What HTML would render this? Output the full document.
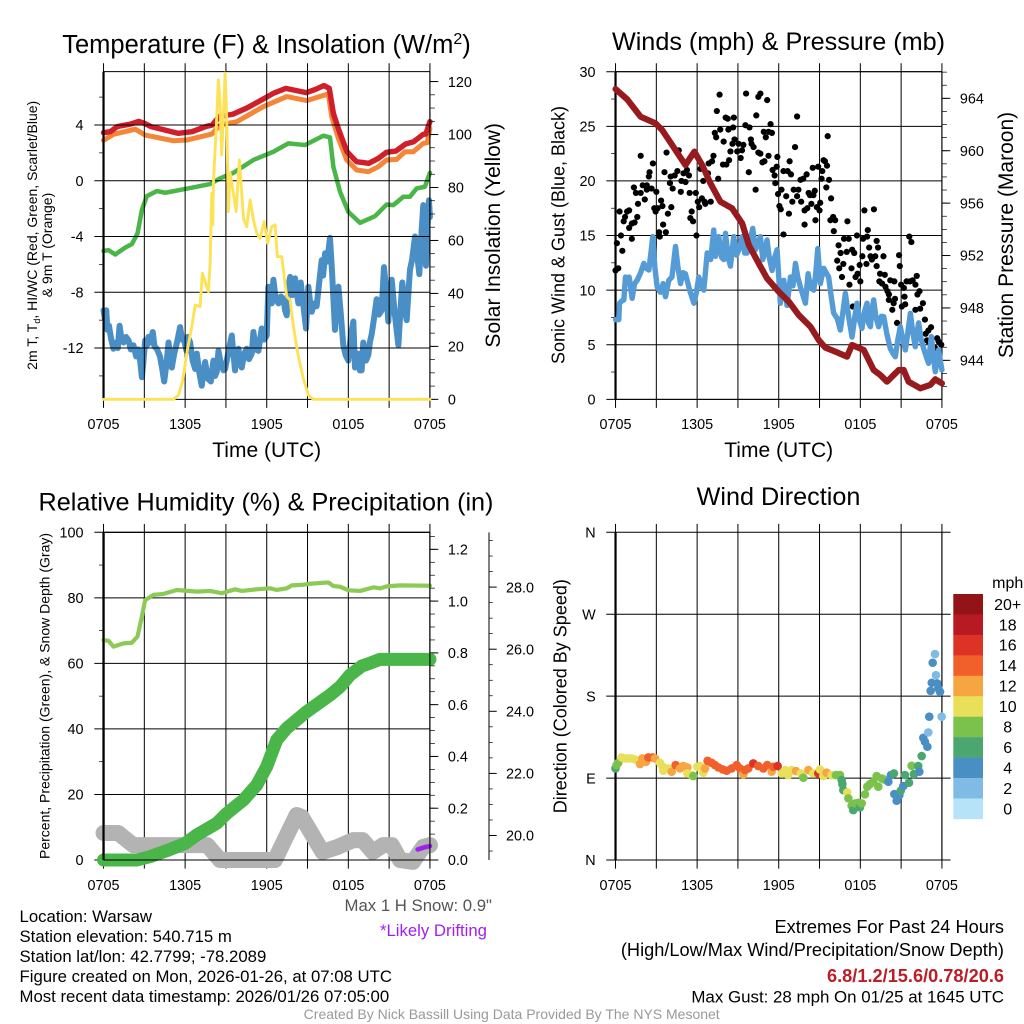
<!DOCTYPE html>
<html lang="en">
<head>
<meta charset="utf-8">
<title>Warsaw Mesonet Meteogram</title>
<style>
html,body{margin:0;padding:0;background:#fff;}
svg{display:block;font-family:"Liberation Sans",sans-serif;}
text{fill:#000;}
</style>
</head>
<body>
<svg id="figure" xmlns="http://www.w3.org/2000/svg" width="1024" height="1024" viewBox="0 0 1024 1024">
<rect x="0" y="0" width="1024" height="1024" fill="#fff"/>
<g id="p1"></g>
<g id="p2"></g>
<g id="p3"></g>
<g id="p4"></g>

<text x="266.5" y="53" font-size="25.5" text-anchor="middle">Temperature (F) &amp; Insolation (W/m<tspan font-size="16" dy="-9">2</tspan><tspan dy="9">)</tspan></text>
<text x="778.5" y="50" font-size="25.2" text-anchor="middle">Winds (mph) &amp; Pressure (mb)</text>
<text x="266" y="510.5" font-size="25.2" text-anchor="middle">Relative Humidity (%) &amp; Precipitation (in)</text>
<text x="778.5" y="505" font-size="25.2" text-anchor="middle">Wind Direction</text>

<text x="266.7" y="457" font-size="21" text-anchor="middle">Time (UTC)</text>
<text x="778.7" y="457" font-size="21" text-anchor="middle">Time (UTC)</text>

<text transform="rotate(-90 37 235.3)" x="37" y="235.3" font-size="14" text-anchor="middle">2m T, T<tspan font-size="9" dy="3">d</tspan><tspan dy="-3">, HI/WC (Red, Green, Scarlet/Blue)</tspan></text>
<text transform="rotate(-90 52 245)" x="52" y="245" font-size="14" text-anchor="middle">&amp; 9m T (Orange)</text>
<text transform="rotate(-90 500 235.3)" x="500" y="235.3" font-size="21" text-anchor="middle">Solar Insolation (Yellow)</text>
<text transform="rotate(-90 564.7 235)" x="564.7" y="235" font-size="18" text-anchor="middle">Sonic Wind &amp; Gust (Blue, Black)</text>
<text transform="rotate(-90 1013 235)" x="1013" y="235" font-size="21" text-anchor="middle">Station Pressure (Maroon)</text>
<text transform="rotate(-90 49.3 696)" x="49.3" y="696" font-size="14" text-anchor="middle">Percent, Precipitation (Green), &amp; Snow Depth (Gray)</text>
<text transform="rotate(-90 566.7 696.2)" x="566.7" y="696.2" font-size="18" text-anchor="middle">Direction (Colored By Speed)</text>

<g font-size="16.75">
<text x="19.5" y="922">Location: Warsaw</text>
<text x="19.5" y="942">Station elevation: 540.715 m</text>
<text x="19.5" y="962">Station lat/lon: 42.7799; -78.2089</text>
<text x="19.5" y="982">Figure created on Mon, 2026-01-26, at 07:08 UTC</text>
<text x="19.5" y="1002">Most recent data timestamp: 2026/01/26 07:05:00</text>
</g>
<text x="492" y="911" font-size="16.75" text-anchor="end" style="fill:#555">Max 1 H Snow: 0.9"</text>
<text x="487" y="936" font-size="16.75" text-anchor="end" style="fill:#a020f0">*Likely Drifting</text>

<g text-anchor="end">
<text x="1004" y="933" font-size="18.2">Extremes For Past 24 Hours</text>
<text x="1004" y="956" font-size="18.2">(High/Low/Max Wind/Precipitation/Snow Depth)</text>
<text x="1004" y="982" font-size="18.2" font-weight="bold" style="fill:#bb1e26">6.8/1.2/15.6/0.78/20.6</text>
<text x="1004" y="1002.5" font-size="16.9">Max Gust: 28 mph On 01/25 at 1645 UTC</text>
</g>
<text x="511.7" y="1019" font-size="14" text-anchor="middle" style="fill:#999">Created By Nick Bassill Using Data Provided By The NYS Mesonet</text>
</svg>

<script>
/* ---------- shared tick data ---------- */
const xGridHours = [0,3,6,9,12,15,18,21,24];
const xTickHours = [0,6,12,18,24];
const xTickLabels = ['0705','1305','1905','0105','0705'];

/* ---------- panel 1: temperature and insolation ---------- */
const tempTickLabels = ['4','0','-4','-8','-12'];
const tempMinorValues = [6,2,-2,-6,-10,-14];
const solarTickLabels = ['120','100','80','60','40','20','0'];

const redHours = [0,.5,1,2,2.6,3,3.5,4.5,5.5,6.5,7.5,8,8.5,9.5,10.5,11.7,12.5,13.4,14.9,15.6,16.2,16.6,16.9,17.3,17.9,18.6,19.5,20.2,20.8,21.5,22.2,22.8,23.5,23.7,24];
const redTemp = [3.45,3.52,3.88,4.07,4.26,4.12,3.88,3.64,3.40,3.52,3.88,4.0,4.6,4.77,5.2,5.84,6.28,6.63,6.32,6.56,6.83,6.63,4.84,3.64,2.08,1.37,1.25,1.6,2.04,2.13,2.63,2.8,3.33,3.35,4.24];

const orangeHours = [0,.73,2.33,3.06,5.14,6.12,7.96,8.57,9.8,11.76,13.47,14.94,16.53,16.78,17.27,17.88,18.61,19.47,20.2,20.82,21.55,22.16,22.78,23.51,23.8,24];
const orangeTemp = [2.9,3.33,3.7,3.28,2.87,2.92,3.35,4.0,4.24,5.32,6.04,5.75,6.23,4.6,3.04,1.5,.77,.65,1.0,1.49,1.53,2.08,2.08,2.68,2.73,3.76];

const greenHours = [0,.37,.86,1.6,2.08,2.5,2.82,3.18,3.92,4.53,6.12,7.84,8.57,9.55,11.02,12.49,13.59,14.82,16.16,16.65,16.9,17.39,18,18.86,19.96,20.82,21.31,22.04,22.53,23.02,23.63,24];
const greenDewpoint = [-5.03,-4.98,-5.29,-4.79,-4.55,-3.78,-2.1,-1.1,-.74,-.86,-.57,-.24,.17,.57,1.49,2.08,2.68,2.56,3.23,3.11,1.0,-.79,-2.23,-3.02,-2.54,-1.7,-1.75,-1.15,-1.15,-.55,-.43,.57];

const blueHours = [
  0,.1,.2,.29,.4,.55,.73,.9,1.05,1.18,
  1.3,1.47,1.65,1.84,2,2.2,2.4,2.57,2.7,2.82,
  2.95,3.06,3.2,3.31,3.45,3.62,3.75,3.92,4.15,4.3,
  4.46,4.62,4.78,4.9,5.02,5.2,5.4,5.63,5.78,5.93,
  6.1,6.2,6.37,6.55,6.74,6.86,7.05,7.22,7.35,7.47,
  7.68,7.89,8.08,8.2,8.33,8.45,8.6,8.82,8.94,9.2,
  9.43,9.55,9.67,9.8,9.92,10.04,10.16,10.35,10.53,10.7,
  10.9,11.02,11.2,11.39,11.63,11.8,12,12.12,12.25,12.37,
  12.49,12.65,12.86,13.05,13.23,13.35,13.47,13.6,13.72,13.9,
  14.08,14.2,14.33,14.5,14.7,14.89,15.06,15.2,15.31,15.5,
  15.67,15.85,16.04,16.15,16.29,16.45,16.65,16.8,17.02,17.15,
  17.27,17.45,17.63,17.8,18,18.2,18.37,18.49,18.7,18.85,
  18.98,19.1,19.3,19.47,19.6,19.72,19.9,20.08,20.25,20.45,
  20.62,20.8,20.94,21.05,21.19,21.4,21.68,21.85,21.97,22.15,
  22.29,22.45,22.53,22.7,22.9,23.05,23.22,23.4,23.51,23.62,
  23.71,23.82,23.93,24];
const blueWindChill = [
  -9.3,-9.9,-9.3,-10.7,-10.4,-11.3,-12.05,-11.6,-12,-10.4,
  -11.2,-11.6,-11.2,-11.45,-12.1,-11.8,-12.6,-12.1,-13,-14.1,
  -12.8,-11.45,-11.8,-11.2,-11.6,-10.85,-11.9,-12.05,-12.6,-13.4,
  -14.4,-13.2,-11.6,-12.6,-13.4,-12.4,-11.6,-10.5,-11.4,-11.45,
  -12.2,-11.2,-11.6,-12.9,-13.5,-12.4,-13.8,-14.7,-13.8,-13,
  -14.2,-14.4,-12.9,-14,-13.7,-12.2,-13,-13.6,-13.5,-12.2,
  -11.1,-12.4,-13.6,-12.6,-12.05,-13,-13.4,-12.4,-12.05,-12.8,
  -12.4,-10.85,-12.1,-12.2,-10.6,-11.4,-11.1,-7.6,-8.6,-8.8,
  -7.1,-8.4,-8.8,-8.3,-8.5,-9.3,-9.65,-7.6,-6.9,-8.2,
  -7,-8,-8.8,-7.3,-9,-10.6,-7.6,-8.8,-9.4,-8.8,
  -9,-7.4,-5.7,-6.8,-5.2,-5.8,-4.1,-6.5,-10.7,-8.5,
  -7.6,-9.6,-11.8,-12.5,-12.9,-11,-10.1,-13.4,-12.4,-13.6,
  -13.6,-11.6,-12.9,-12.5,-11.5,-11,-9.8,-8.5,-9.6,-9.3,
  -6.2,-8,-10.1,-8.6,-7.1,-9.4,-11.8,-9,-7.3,-9.2,
  -10,-7.6,-6.4,-5.6,-4,-5.2,-6.7,-3.4,-1.75,-4,
  -6.1,-3.2,-1.4,-2.6];

const solarHours = [0,5.14,5.51,5.83,6.12,6.49,6.74,7.1,7.27,7.71,7.84,7.96,8.03,8.08,8.28,8.45,8.57,8.69,8.94,9.06,9.18,9.31,9.55,9.75,9.99,10.29,10.53,10.78,11.02,11.27,11.51,11.81,12.07,12.37,12.61,12.78,13.1,13.47,13.72,13.96,14.33,14.69,15.06,15.43,24];
const solarValues = [0,0,1.6,7.3,17.4,27.5,35.6,35,47.6,40.7,51.4,77.8,65.9,81.6,101.8,120.7,111.8,92.3,123.2,105.5,70.9,85.4,77.8,70.9,90.4,68.4,65.2,75.3,67.8,62.7,60.8,67.1,58.9,65.2,65.9,53.9,53.9,38.8,37.5,27.5,16.1,7.9,1.6,0,0];

/* ---------- panel 2: winds and pressure ---------- */
const windTickLabels = ['30','25','20','15','10','5','0'];
const windMinorValues = [27.5,22.5,17.5,12.5,7.5,2.5];
const pressureTickLabels = ['964','960','956','952','948','944'];

const gustHours = [0,.2,.1,.3,.4,.5,.6,.7,.85,1,1,1.2,1.2,1.4,1.6,1.35,1.5,1.65,1.85,1.85,2,2.15,2.3,2.3,2.65,2.45,2.5,2.75,2.85,3,2.95,3.1,3.2,3.25,3.35,3.45,3.5,3.7,3.6,3.75,3.85,4,4.05,4.1,4.2,4.35,4.55,4.65,4.8,4.85,5,5.15,5.25,5.4,5.45,5.5,5.6,5.7,5.9,5.95,6.05,6.15,6.25,6.35,6.45,6.55,6.6,6.8,6.85,7,7.1,7.2,7.3,7.4,7.45,7.55,7.65,7.7,7.9,7.95,8.1,8.15,8.25,8.35,8.3,8.45,8.6,8.65,8.7,8.75,8.95,9.05,9.2,9.3,9.4,9.55,9.6,9.8,9.85,9.95,10,10.15,10.3,10.35,10.5,10.65,10.5,10.65,10.8,10.95,10.9,11.05,11.15,11.25,11.25,11.4,11.5,11.55,11.7,11.75,11.9,11.85,11.95,12.05,12.15,12.2,12.35,12.35,12.55,12.65,12.75,12.8,12.9,13,13.1,13.2,13.35,13.35,13.45,13.6,13.65,13.8,13.9,13.9,14.1,14.05,14.2,14.3,14.4,14.5,14.55,14.65,14.7,14.8,14.9,15,15.05,15.15,15.2,15.3,15.4,15.55,15.5,15.6,15.7,15.85,15.8,16,16.05,16.15,16.3,16.4,16.45,16.55,16.65,16.75,16.8,17,17.05,17.15,17.2,17.35,17.4,17.45,17.55,17.65,17.75,17.8,18,17.95,18.15,18.2,18.3,18.45,18.5,18.55,18.65,18.75,18.85,19,19.1,19.2,19.3,19.2,19.45,19.7,19.8,19.4,19.6,19.85,20,20.1,20.1,20.2,20.5,20.35,20.45,20.55,20.7,20.85,20.9,21,21.05,21.2,21.25,21.3,21.4,21.65,21.6,21.75,21.85,22.05,22.05,22.15,22.2,22.35,22.4,22.6,22.75,22.8,23,23.2,22.9,23,23.5,23.65,23.75,23.95];
const gustMph = [11.8,12,14.3,17.2,15,13.6,16.3,16.7,17.2,17.3,15.7,14.7,16.1,16.2,16.7,19.4,18.9,17.9,22.3,18.9,19.6,18.3,19.6,19.2,19.3,20.4,20.8,21.6,17.5,19,17.2,17.5,15.3,14.9,18.2,17.7,16,15.3,20.8,22.6,17,19.8,20.4,17.6,19.3,20.5,20.9,22.8,19,20,20.7,19.9,21,20.5,18.9,16.6,17.2,16.3,18.9,15,18.1,17.6,21.1,18.4,20,18.1,17.9,20.7,21.6,18.1,21.8,22.3,24.4,24,26.4,20.2,27.9,24.7,21.5,23.6,25.8,21.5,25.7,21.9,24.7,22.7,23.4,24.9,25.8,23.8,22.7,23.4,22.1,22.8,23.3,25.1,28,20.8,24.9,23.8,23.4,23.1,19.2,26,27.7,28,22.6,22.5,21.7,21.8,24.5,24,27.4,24.5,22.3,25.2,24.4,21,20.5,19.8,22.2,21.3,18.8,17.7,17.4,19.2,20.9,15.1,18.6,20.9,17,21.8,20.6,18.1,19.2,23.1,25.9,18.6,19.2,20.1,18.1,20.2,17.3,16,17.5,20.6,18.9,18.7,17.9,21.2,18.7,19.1,16.4,17.6,21.3,17.3,18,20.2,20.9,21.9,21.8,21.4,19.4,24.1,20.1,18.4,16.4,16.7,15.4,16.4,12.7,14.1,12,13.4,11.2,12.4,14.7,13.5,16.3,14.7,10.5,12,13.7,8.5,13.4,11.2,15,11.5,10.8,12.3,13.1,14.7,17.3,12.4,14.9,15.5,13.9,13.1,12.8,17.4,13.1,14.5,13.9,12.2,11.5,13.1,11.4,10.8,10.6,10.3,9.9,9.6,9.1,10.9,10.8,8.2,8.8,9.2,7,13.2,12.2,10.5,8.5,10.2,9.4,8.7,10.8,10.8,14.9,14.4,10.9,10.5,8.2,11.3,9.6,9.9,8.3,8.8,7.3,6,6.3,6.6,5.4,5.3,4.7,5.6,5.3,5];

const windHours = [
  0,.15,.24,.29,.45,.61,.73,.85,1,1.22,
  1.4,1.59,1.85,2.08,2.25,2.45,2.6,2.74,2.9,3.06,
  3.3,3.5,3.67,3.92,4.15,4.41,4.6,4.78,4.95,5.14,
  5.45,5.76,5.95,6.12,6.3,6.49,6.74,7,7.22,7.35,
  7.59,7.8,7.96,8.08,8.3,8.45,8.69,8.9,9.06,9.31,
  9.5,9.67,9.9,10.09,10.29,10.65,10.83,11,11.14,11.3,
  11.51,11.7,11.88,12.12,12.25,12.37,12.61,12.86,13.05,13.23,
  13.4,13.59,13.96,14.16,14.35,14.57,14.72,14.87,15.06,15.31,
  15.67,15.85,16.04,16.3,16.53,16.72,16.9,17.15,17.39,17.6,
  17.76,17.95,18.12,18.3,18.49,18.6,18.74,18.86,18.98,19.15,
  19.35,19.55,19.72,19.95,20.2,20.4,20.57,20.75,20.94,21.15,
  21.31,21.5,21.68,21.85,22.04,22.15,22.29,22.45,22.65,22.85,
  23.02,23.12,23.22,23.38,23.51,23.65,23.76,23.9,24];
const windMph = [
  7.3,7.3,7.3,8.8,9,9.1,11.2,10.8,11.2,9.25,
  10.6,10.9,11.6,12.45,12,11.84,13.4,14.9,12,10.3,
  9.8,10.6,9.4,10.9,11.2,14,12,10.6,11.6,11.5,
  10,8.8,9.8,11.2,10.5,10,13.4,12.8,15.5,13.1,
  14.9,13,12.8,15.2,12.9,12.2,14.9,13.2,13.7,14.9,
  13.4,13.4,14.6,15.65,13.7,14.9,12.8,13.6,14.6,13,
  11.8,13,13.7,8.8,10,10.9,8.6,11.2,10.4,12.45,
  11.2,10.3,8.8,11.5,10.2,10,11.5,13.8,10.6,12,
  11.2,9.5,7.9,7.4,6.35,8,9.7,7.5,5.7,7.6,
  8.8,7.2,6.5,8,8.8,7,6.65,8.2,9.1,7.5,
  6.65,7.6,7.57,6,4.67,4.2,3.9,5.4,6.65,5.3,
  4.52,6.2,7.87,6.2,4.82,6,7,5.6,4.67,3.9,
  3.3,4.6,5.74,3.8,2.53,3.6,4.52,3.4,2.7];

const pressureHours = [0,.86,1.84,2.94,3.43,4.16,4.65,5.14,5.8,6.37,6.98,7.71,8.57,9.31,9.8,10.53,11.14,12,12.74,13.47,14.33,14.94,15.43,16.16,17.02,17.39,18.25,18.98,19.47,19.96,20.45,20.82,21.19,21.55,22.41,23.14,23.51,24];
const pressureMb = [964.71,963.92,962.6,962.09,961.58,960.44,959.67,958.91,959.93,958.91,957.51,956.11,955.6,954.46,952.8,951.4,950.26,949.24,948.48,947.46,946.57,945.55,944.97,944.66,944.28,945.17,944.79,943.26,942.88,942.37,942.88,943.26,943.26,942.37,941.86,942.12,942.55,942.24];

/* ---------- panel 3: humidity, precipitation, snow ---------- */
const percentTickLabels = ['100','80','60','40','20','0'];
const percentMinorValues = [90,70,50,30,10];
const precipTickLabels = ['1.2','1.0','0.8','0.6','0.4','0.2','0.0'];
const snowTickLabels = ['28.0','26.0','24.0','22.0','20.0'];

const humidityHours = [0,.37,.73,1.47,2.08,2.5,2.82,3.06,3.67,4.41,5.39,6.86,7.84,8.69,9.67,10.16,11.27,12.25,12.74,13.47,13.84,14.69,15.18,16.53,16.9,17.39,18,18.86,19.84,20.33,20.82,21.8,24];
const humidityPercent = [67.1,66.9,65.1,66.1,66.3,68.2,74.3,79.3,80.9,81.2,82.4,81.9,82.1,81.4,82.6,82.1,82.6,82.9,82.4,82.9,83.8,84,84.3,84.7,83.6,83.4,82.3,82.1,83.2,82.9,83.5,83.8,83.7];

const precipHours = [0,2.45,3.43,4.65,6,6.86,8.33,9.06,10.29,11.27,12,12.74,13.47,14.94,16.65,17.39,18.12,18.98,19.59,20.33,24];
const precipInches = [0,0,.013,.036,.064,.097,.142,.18,.232,.29,.361,.464,.509,.573,.637,.669,.714,.749,.76,.775,.775];

const snowHours = [0,1.08,2.18,7.62,8.57,12.6,14.2,14.57,16.1,17.2,18.35,19.05,19.8,20.55,21.2,21.8,22.75,23.5,24];
const snowDepth = [20.08,20.08,19.69,19.69,19.21,19.21,20.66,20.6,19.47,19.63,19.85,19.85,19.47,19.69,19.69,19.21,19.15,19.63,19.69];

const driftHours = [23.1,23.6,24];
const driftDepth = [19.55,19.62,19.66];

/* ---------- panel 4: wind direction ---------- */
const directionTickLabels = ['N','W','S','E','N'];
const directionTickDegrees = [360,270,180,90,0];

const dirHours = [0,.08,.2,.45,.7,.94,1.19,1.43,1.8,1.97,2.24,2.41,2.73,2.9,3.27,3.47,3.51,3.88,4.13,4.42,4.74,4.99,5.28,5.28,5.6,5.72,6.01,6.21,6.45,6.58,6.77,7.07,7.31,7.56,7.88,8.17,8.54,8.91,9.15,9.4,9.52,9.76,10.13,10.5,10.87,11.16,11.48,11.6,11.92,12.22,12.46,12.7,12.95,13.27,13.62,13.81,14.18,14.54,14.91,15.03,15.28,15.52,15.89,16.21,16.5,16.63,16.68,16.75,17.04,17.12,17.36,17.48,17.61,17.85,17.97,18.1,18.34,18.51,18.71,18.96,19.2,19.32,19.57,19.74,20.06,20.25,20.47,20.5,20.67,20.87,20.97,21.16,21.28,21.58,21.77,21.94,22.26,22.34,22.51,22.63,22.75,22.93,23,23.07,23.17,23.25,23.32,23.49,23.56,23.66,23.74,23.86,23.98];
const dirDegrees = [100.6,104.3,106.8,112.7,111.6,111.6,111.6,110.5,105.4,111.6,107.9,112.7,112.7,111.6,106.8,102.4,98.1,100.6,97,104.3,100.6,103.2,101.7,95.1,93.3,92.2,102.4,103.2,95.9,100.6,109,106.8,104.3,101.7,99.5,98.1,100.6,104.3,100.6,94,98.8,100.6,106.1,103.2,100.6,104.3,97,102.4,103.2,95.1,98.8,93.3,98.8,97.7,95.1,90.4,98.8,95.1,95.1,99.5,92.2,95.9,93.3,93.3,93.3,87.8,83.4,76.8,74.3,67.7,59.6,54.8,62.2,62.9,57.8,62.2,72.1,80.5,83.4,86,92.2,80.5,89.6,88.5,86,93.3,95.1,72.4,65.1,71.3,76.1,81.2,93.3,84.9,103.5,94.4,103.2,97,114.2,134.3,129.9,124.4,140.2,157.4,185.9,194.7,216.7,226.2,203.1,194,188.5,184.8,157.4];
const dirSpeeds = [6,8,8,10,10,10,10,10,12,12,12,14,14,12,10,10,10,10,12,14,12,12,12,10,10,8,10,10,10,12,14,14,14,14,14,14,14,14,14,12,14,14,16,14,14,14,12,14,16,10,10,10,10,12,10,8,12,10,16,10,10,12,10,8,8,6,6,6,10,8,8,6,8,8,6,8,8,8,8,8,8,8,8,8,4,4,6,4,4,4,6,4,6,6,8,6,6,4,6,4,4,4,2,4,4,4,4,2,2,4,4,4,2];

const legendLabels = ['20+','18','16','14','12','10','8','6','4','2','0'];
const speedBinColors = ['#b7e3f8','#7fbbe4','#4a8fc4','#4ba76f','#7ac24b','#e8e05a','#f7a540','#f1602a','#dd3226','#b71a22','#931317'];

/* ---------- layout and axis functions ---------- */
const SVGNS = 'http://www.w3.org/2000/svg';
const leftColumnX0 = 103.53, rightColumnX0 = 615.53, hourPx = 13.6;
const topTop = 71.67, topBottom = 399.33, lowTop = 532.33, lowBottom = 860;

const xLeft = h => leftColumnX0 + h * hourPx;
const xRight = h => rightColumnX0 + h * hourPx;
const yTemp = v => 180.75 - v * 13.94;
const ySolar = v => 399.33 - v * 2.648;
const yWind = v => 399.33 - v * 10.92;
const yPressure = v => 360.33 - (v - 944) * 13.1;
const yPercent = v => 860 - v * 3.277;
const yPrecip = v => 860 - v * 258.9;
const ySnow = v => 835.5 - (v - 20) * 31.05;
const yDir = v => 860 - v * 0.9103;

function mk(parent, tag, attrs, text) {
  const el = document.createElementNS(SVGNS, tag);
  for (const k in attrs) el.setAttribute(k, attrs[k]);
  if (text !== undefined) el.textContent = text;
  parent.appendChild(el);
  return el;
}

function segment(g, x1, y1, x2, y2, width, name) {
  const el = mk(g, 'line', {x1: x1, y1: y1, x2: x2, y2: y2, stroke: '#000', 'stroke-width': width});
  
  
  return el;
}

function label(g, x, y, anchor, size, str, name) {
  const el = mk(g, 'text', {x: x, y: y, 'text-anchor': anchor, 'font-size': size}, str);
  
  
  return el;
}

function series(g, hours, values, xFn, yFn, color, width, name) {
  const pts = hours.map((h, i) => xFn(h).toFixed(2) + ',' + yFn(values[i]).toFixed(2)).join(' ');
  const el = mk(g, 'polyline', {points: pts, fill: 'none', stroke: color, 'stroke-width': width, 'stroke-linejoin': 'round', 'stroke-linecap': 'round'});
  
  
  return el;
}

function verticalGrid(g, xFn, top, bottom, labelY) {
  xGridHours.forEach(h => {
    segment(g, xFn(h), top - 8.4, xFn(h), bottom + 8.6, 1, 'x-grid-line');
  });
  xTickHours.forEach((h, i) => {
    label(g, xFn(h), labelY, 'middle', 14.4, xTickLabels[i], 'x-tick-label');
  });
}

function leftAxis(g, xFn, yFn, labels, minors, top, bottom) {
  labels.forEach(t => {
    const v = parseFloat(t);
    segment(g, xFn(0) - 9.2, yFn(v), xFn(24), yFn(v), 1, 'y-grid-line');
    label(g, xFn(0) - 20, yFn(v) + 5.2, 'end', 14.4, t, 'y-tick-label');
  });
  minors.forEach(v => {
    segment(g, xFn(0) - 4.5, yFn(v), xFn(0), yFn(v), 0.7, 'y-minor-tick');
  });
  frame(g, xFn, top, bottom);
}

function frame(g, xFn, top, bottom) {
  segment(g, xFn(0), top, xFn(24), top, 1, 'plot-top-edge');
  segment(g, xFn(0), bottom, xFn(24), bottom, 1, 'plot-bottom-edge');
  segment(g, xFn(0), top, xFn(0), bottom, 2.2, 'plot-left-edge');
  segment(g, xFn(24), top, xFn(24), bottom, 1.1, 'plot-right-edge');
}

function rightAxis(g, xFn, yFn, labels, minorFrom, minorTo, minorStep, top, bottom) {
  const xr = xFn(24);
  labels.forEach(t => {
    const v = parseFloat(t);
    segment(g, xr, yFn(v), xr + 8.4, yFn(v), 1, 'right-axis-tick');
    label(g, xr + 18, yFn(v) + 5.2, 'start', 14.4, t, 'right-axis-tick-label');
  });
  for (let v = minorFrom; v <= minorTo + 1e-6; v += minorStep) {
    const y = yFn(v);
    if (y >= top - 0.1 && y <= bottom + 0.1) segment(g, xr, y, xr + 5, y, 0.7, 'right-axis-minor-tick');
  }
}

/* ---------- draw panel 1 ---------- */
const g1 = document.getElementById('p1');
series(g1, blueHours, blueWindChill, xLeft, yTemp, '#4a8ec6', 6, 'dewpoint-scarlet-blue-line');
series(g1, greenHours, greenDewpoint, xLeft, yTemp, '#4ab648', 4.5, 'dewpoint-green-line');
series(g1, orangeHours, orangeTemp, xLeft, yTemp, '#f58638', 5, 'temperature-9m-orange-line');
series(g1, redHours, redTemp, xLeft, yTemp, '#d01f2a', 5.4, 'temperature-2m-red-line');
verticalGrid(g1, xLeft, topTop, topBottom, 429);
leftAxis(g1, xLeft, yTemp, tempTickLabels, tempMinorValues, topTop, topBottom);
rightAxis(g1, xLeft, ySolar, solarTickLabels, 0, 125, 5, topTop, topBottom);
series(g1, solarHours, solarValues, xLeft, ySolar, '#fde258', 2.9, 'solar-insolation-line');

/* ---------- draw panel 2 ---------- */
const g2 = document.getElementById('p2');
verticalGrid(g2, xRight, topTop, topBottom, 429);
leftAxis(g2, xRight, yWind, windTickLabels, windMinorValues, topTop, topBottom);
rightAxis(g2, xRight, yPressure, pressureTickLabels, 941, 966, 1, topTop, topBottom);
gustHours.forEach((h, i) => {
  const d = mk(g2, 'circle', {cx: xRight(h).toFixed(2), cy: yWind(gustMph[i]).toFixed(2), r: 3.1, fill: '#000'});
  
  
});
series(g2, windHours, windMph, xRight, yWind, '#559bd5', 5.4, 'sonic-wind-line');
series(g2, pressureHours, pressureMb, xRight, yPressure, '#971a1e', 6.2, 'station-pressure-line');

/* ---------- draw panel 3 ---------- */
const g3 = document.getElementById('p3');
verticalGrid(g3, xLeft, lowTop, lowBottom, 890);
leftAxis(g3, xLeft, yPercent, percentTickLabels, percentMinorValues, lowTop, lowBottom);
rightAxis(g3, xLeft, yPrecip, precipTickLabels, 0, 1.25, 0.05, lowTop, lowBottom);
series(g3, snowHours, snowDepth, xLeft, ySnow, '#b3b3b3', 16, 'snow-depth-line');
series(g3, humidityHours, humidityPercent, xLeft, yPercent, '#8dc955', 4.2, 'relative-humidity-line');
series(g3, precipHours, precipInches, xLeft, yPrecip, '#4ab549', 13, 'precipitation-line');
series(g3, driftHours, driftDepth, xLeft, ySnow, '#a020f0', 4.6, 'drifting-snow-line');
frame(g3, xLeft, lowTop, lowBottom);
const snowAxisX = 489;
segment(g3, snowAxisX, lowTop, snowAxisX, lowBottom, 1, 'snow-axis-line');
snowTickLabels.forEach(t => {
  const v = parseFloat(t);
  segment(g3, snowAxisX, ySnow(v), snowAxisX + 7.7, ySnow(v), 1, 'snow-axis-tick');
  label(g3, snowAxisX + 17, ySnow(v) + 5.2, 'start', 14.4, t, 'snow-axis-tick-label');
});
for (let v = 19.5; v <= 29.5; v += 0.5) {
  if (v % 2 !== 0) segment(g3, snowAxisX, ySnow(v), snowAxisX + 3.8, ySnow(v), 0.7, 'snow-axis-minor-tick');
}

/* ---------- draw panel 4 ---------- */
const g4 = document.getElementById('p4');
verticalGrid(g4, xRight, lowTop, lowBottom, 890);
directionTickLabels.forEach((t, i) => {
  const y = yDir(directionTickDegrees[i]);
  segment(g4, xRight(0) - 9.3, y, xRight(24) + 8.7, y, 1, 'direction-grid-line');
  label(g4, 595.7, y + 5.2, 'end', 14.4, t, 'direction-tick-label');
});
segment(g4, xRight(0), lowTop, xRight(0), lowBottom, 2.2, 'plot-left-edge');
segment(g4, xRight(24), lowTop, xRight(24), lowBottom, 1.1, 'plot-right-edge');
dirHours.forEach((h, i) => {
  const bin = Math.min(speedBinColors.length - 1, Math.floor(dirSpeeds[i] / 2));
  const d = mk(g4, 'circle', {cx: xRight(h).toFixed(2), cy: yDir(dirDegrees[i]).toFixed(2), r: 4.3, fill: speedBinColors[bin]});
  
  
});

/* colour legend */
const legendX = 953.3, legendTop = 594, legendBoxH = 20.45, legendW = 29.7;
legendLabels.forEach((t, i) => {
  const colorIndex = legendLabels.length - 1 - i;
  const box = mk(g4, 'rect', {x: legendX, y: legendTop + i * legendBoxH, width: legendW, height: legendBoxH + 0.2, fill: speedBinColors[colorIndex]});
  
  
  label(g4, 1007.7, legendTop + (i + 0.5) * legendBoxH + 5.6, 'middle', 16, t, 'speed-legend-label');
});
label(g4, 1007.7, 588, 'middle', 16, 'mph', 'speed-legend-title');
</script>
</body>
</html>
